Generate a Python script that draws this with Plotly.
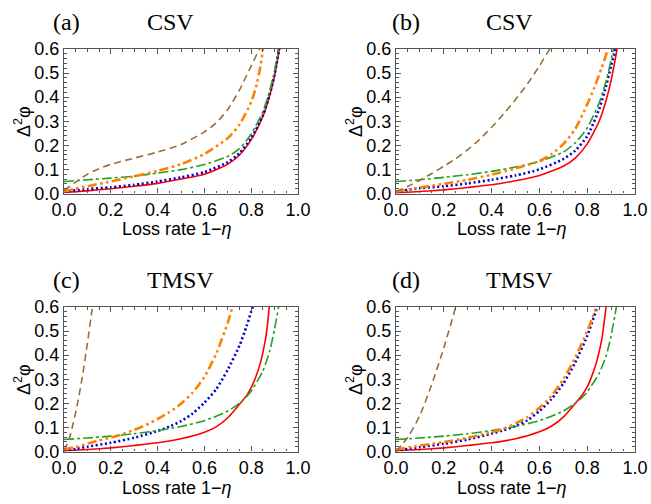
import plotly.graph_objects as go
from plotly.subplots import make_subplots

W, H = 651, 504

# ---------------- data ----------------
# Panel (a) CSV
a_red_x = [0, 0.1, 0.2, 0.3, 0.4, 0.5, 0.6, 0.7, 0.75, 0.8, 0.85, 0.88, 0.9, 0.92, 0.93]
a_red_y = [0.004, 0.011, 0.02, 0.03, 0.042, 0.06, 0.08, 0.122, 0.16, 0.224, 0.32, 0.41, 0.49, 0.6, 0.66]
a_blue_x = [0, 0.1, 0.2, 0.3, 0.4, 0.5, 0.6, 0.7, 0.75, 0.8, 0.85, 0.88, 0.9, 0.92, 0.93]
a_blue_y = [0.008, 0.018, 0.026, 0.036, 0.05, 0.067, 0.089, 0.13, 0.168, 0.23, 0.325, 0.415, 0.495, 0.6, 0.66]
a_green_x = [0, 0.1, 0.2, 0.3, 0.4, 0.5, 0.6, 0.7, 0.75, 0.8, 0.85, 0.88, 0.9, 0.915, 0.925]
a_green_y = [0.05, 0.057, 0.064, 0.072, 0.085, 0.099, 0.12, 0.154, 0.186, 0.247, 0.34, 0.43, 0.51, 0.6, 0.66]
a_orange_x = [0, 0.05, 0.1, 0.2, 0.3, 0.4, 0.5, 0.6, 0.7, 0.75, 0.8, 0.82, 0.84, 0.85, 0.855]
a_orange_y = [0.008, 0.02, 0.03, 0.05, 0.071, 0.094, 0.122, 0.164, 0.23, 0.286, 0.38, 0.44, 0.53, 0.6, 0.64]
a_brown_x = [0, 0.05, 0.1, 0.15, 0.2, 0.3, 0.4, 0.5, 0.6, 0.65, 0.7, 0.75, 0.8, 0.835, 0.85]
a_brown_y = [0.012, 0.047, 0.08, 0.103, 0.121, 0.147, 0.172, 0.203, 0.256, 0.293, 0.349, 0.43, 0.53, 0.6, 0.63]

# Panel (b) CSV
b_red_x = [0, 0.1, 0.2, 0.3, 0.4, 0.5, 0.6, 0.7, 0.75, 0.8, 0.85, 0.88, 0.9, 0.925, 0.935]
b_red_y = [0.002, 0.008, 0.015, 0.025, 0.036, 0.053, 0.075, 0.113, 0.147, 0.206, 0.3, 0.39, 0.47, 0.6, 0.66]
b_blue_x = [0, 0.1, 0.2, 0.3, 0.4, 0.5, 0.6, 0.7, 0.75, 0.8, 0.85, 0.88, 0.9, 0.918, 0.93]
b_blue_y = [0.008, 0.022, 0.03, 0.042, 0.057, 0.075, 0.1, 0.143, 0.178, 0.238, 0.35, 0.45, 0.53, 0.6, 0.67]
b_green_x = [0, 0.1, 0.2, 0.3, 0.4, 0.5, 0.6, 0.7, 0.75, 0.8, 0.85, 0.88, 0.91, 0.92]
b_green_y = [0.05, 0.057, 0.067, 0.078, 0.092, 0.11, 0.133, 0.172, 0.21, 0.272, 0.376, 0.47, 0.6, 0.65]
b_orange_x = [0, 0.1, 0.2, 0.3, 0.4, 0.5, 0.6, 0.65, 0.7, 0.75, 0.8, 0.83, 0.86, 0.887, 0.895]
b_orange_y = [0.008, 0.025, 0.04, 0.057, 0.078, 0.104, 0.135, 0.163, 0.205, 0.268, 0.37, 0.44, 0.52, 0.6, 0.63]
b_brown_x = [0, 0.05, 0.1, 0.15, 0.2, 0.25, 0.3, 0.35, 0.4, 0.45, 0.5, 0.55, 0.6, 0.643, 0.66]
b_brown_y = [0.008, 0.03, 0.055, 0.083, 0.113, 0.145, 0.182, 0.225, 0.275, 0.33, 0.39, 0.455, 0.53, 0.6, 0.63]

# Panel (c) TMSV
c_red_x = [0, 0.1, 0.2, 0.3, 0.4, 0.5, 0.6, 0.65, 0.7, 0.75, 0.78, 0.8, 0.82, 0.84, 0.86, 0.87, 0.877, 0.885]
c_red_y = [0.003, 0.008, 0.015, 0.025, 0.036, 0.053, 0.08, 0.102, 0.14, 0.196, 0.232, 0.265, 0.31, 0.37, 0.46, 0.53, 0.6, 0.68]
c_blue_x = [0, 0.05, 0.1, 0.2, 0.3, 0.4, 0.45, 0.5, 0.55, 0.6, 0.65, 0.7, 0.75, 0.78, 0.806, 0.815]
c_blue_y = [0.004, 0.011, 0.02, 0.036, 0.057, 0.085, 0.103, 0.126, 0.158, 0.203, 0.258, 0.34, 0.44, 0.52, 0.6, 0.63]
c_green_x = [0, 0.1, 0.2, 0.3, 0.4, 0.5, 0.6, 0.7, 0.75, 0.78, 0.8, 0.85, 0.88, 0.9, 0.917, 0.925]
c_green_y = [0.05, 0.056, 0.064, 0.074, 0.087, 0.104, 0.128, 0.168, 0.2, 0.228, 0.25, 0.335, 0.42, 0.51, 0.6, 0.66]
c_orange_x = [0, 0.05, 0.1, 0.15, 0.2, 0.25, 0.3, 0.35, 0.4, 0.45, 0.5, 0.55, 0.6, 0.65, 0.7, 0.72, 0.73]
c_orange_y = [0.008, 0.019, 0.033, 0.046, 0.058, 0.072, 0.09, 0.11, 0.135, 0.163, 0.198, 0.245, 0.31, 0.405, 0.535, 0.6, 0.64]
c_brown_x = [0, 0.02, 0.04, 0.06, 0.08, 0.1, 0.12, 0.125]
c_brown_y = [0.005, 0.045, 0.12, 0.21, 0.32, 0.45, 0.59, 0.63]

# Panel (d) TMSV
d_red_x = [0, 0.1, 0.2, 0.3, 0.4, 0.5, 0.6, 0.65, 0.7, 0.75, 0.78, 0.8, 0.82, 0.84, 0.86, 0.87, 0.879, 0.887]
d_red_y = [0.003, 0.008, 0.015, 0.025, 0.036, 0.053, 0.082, 0.105, 0.143, 0.2, 0.236, 0.268, 0.315, 0.375, 0.46, 0.53, 0.6, 0.68]
d_blue_x = [0, 0.1, 0.2, 0.3, 0.4, 0.45, 0.5, 0.55, 0.6, 0.65, 0.7, 0.75, 0.8, 0.82, 0.842, 0.85]
d_blue_y = [0.004, 0.018, 0.032, 0.05, 0.074, 0.088, 0.106, 0.13, 0.168, 0.217, 0.282, 0.37, 0.48, 0.535, 0.6, 0.63]
d_green_x = [0, 0.1, 0.2, 0.3, 0.4, 0.5, 0.6, 0.7, 0.75, 0.78, 0.8, 0.85, 0.88, 0.9, 0.922, 0.93]
d_green_y = [0.05, 0.056, 0.064, 0.074, 0.087, 0.104, 0.128, 0.168, 0.2, 0.226, 0.247, 0.325, 0.4, 0.48, 0.6, 0.66]
d_orange_x = [0, 0.1, 0.2, 0.3, 0.4, 0.45, 0.5, 0.55, 0.6, 0.65, 0.7, 0.75, 0.8, 0.82, 0.838, 0.845]
d_orange_y = [0.008, 0.025, 0.039, 0.057, 0.08, 0.094, 0.117, 0.143, 0.182, 0.231, 0.3, 0.39, 0.5, 0.55, 0.6, 0.63]
d_brown_x = [0, 0.05, 0.1, 0.15, 0.2, 0.25, 0.26]
d_brown_y = [0.0, 0.06, 0.15, 0.28, 0.43, 0.6, 0.63]

panel_letters = ["(a)", "(b)", "(c)", "(d)"]
panel_states = ["CSV", "CSV", "TMSV", "TMSV"]
x_ticks = [0.0, 0.2, 0.4, 0.6, 0.8, 1.0]
y_ticks = [0.0, 0.1, 0.2, 0.3, 0.4, 0.5, 0.6]
x_title = "Loss rate 1\u2212<i>\u03b7</i>"
y_title = "\u0394<sup>2</sup>\u03c6"

panels = [
    [(a_red_x, a_red_y, "red"), (a_blue_x, a_blue_y, "blue"), (a_green_x, a_green_y, "green"),
     (a_orange_x, a_orange_y, "orange"), (a_brown_x, a_brown_y, "brown")],
    [(b_red_x, b_red_y, "red"), (b_blue_x, b_blue_y, "blue"), (b_green_x, b_green_y, "green"),
     (b_orange_x, b_orange_y, "orange"), (b_brown_x, b_brown_y, "brown")],
    [(c_red_x, c_red_y, "red"), (c_blue_x, c_blue_y, "blue"), (c_green_x, c_green_y, "green"),
     (c_orange_x, c_orange_y, "orange"), (c_brown_x, c_brown_y, "brown")],
    [(d_red_x, d_red_y, "red"), (d_blue_x, d_blue_y, "blue"), (d_green_x, d_green_y, "green"),
     (d_orange_x, d_orange_y, "orange"), (d_brown_x, d_brown_y, "brown")],
]

styles = {
    "red": dict(color="#ff0000", width=1.6, dash="solid"),
    "blue": dict(color="#0000c8", width=2.6, dash="2px,2.6px"),
    "green": dict(color="#22a022", width=1.6, dash="10px,3px,3px,3px"),
    "orange": dict(color="#ff8000", width=2.6, dash="9px,3.5px,2.5px,3.5px,2.5px,3.5px"),
    "brown": dict(color="#9c6b3a", width=1.6, dash="7px,4.5px"),
}

# ---------------- layout geometry (pixels) ----------------
col_x = [(64, 298), (396, 635)]
row_y = [(49, 193.5), (307, 451.5)]
title_dx = [0, 339]      # horizontal shift of panel headings per column
xlab_cx = [177, 512]     # centre of the x-axis title per column
ylab_cx = [22, 354]      # centre of the y-axis title per column

fig = make_subplots(rows=2, cols=2)

for i, series in enumerate(panels):
    r, c = divmod(i, 2)
    for xs, ys, key in series:
        st = styles[key]
        fig.add_trace(go.Scatter(x=xs, y=ys, mode="lines", showlegend=False,
                                 line=dict(color=st["color"], width=st["width"], dash=st["dash"],
                                           shape="spline", smoothing=0.6)),
                      row=r + 1, col=c + 1)

frame_col = "#555555"
tickfont = dict(family="Liberation Sans, Arial, sans-serif", size=18, color="black")
for i in range(4):
    r, c = divmod(i, 2)
    x0, x1 = col_x[c]
    y0, y1 = row_y[r]
    sfx = "" if i == 0 else str(i + 1)
    fig.layout["xaxis" + sfx].update(
        domain=[x0 / W, x1 / W], range=[0, 1], tickvals=x_ticks, tickformat=".1f",
        automargin=False,
        showline=True, linecolor=frame_col, linewidth=1.4, mirror="ticks",
        ticks="inside", ticklen=5, tickwidth=1, tickcolor=frame_col,
        minor=dict(dtick=0.05, tick0=0, ticks="inside", ticklen=2.5, tickcolor=frame_col, tickwidth=1),
        showgrid=False, zeroline=False, tickfont=tickfont, fixedrange=True)
    fig.layout["yaxis" + sfx].update(
        domain=[1 - y1 / H, 1 - y0 / H], range=[0, 0.6], tickvals=y_ticks, tickformat=".1f",
        automargin=False,
        showline=True, linecolor=frame_col, linewidth=1.4, mirror="ticks",
        ticks="inside", ticklen=5, tickwidth=1, tickcolor=frame_col,
        minor=dict(dtick=0.02, tick0=0, ticks="inside", ticklen=2.5, tickcolor=frame_col, tickwidth=1),
        showgrid=False, zeroline=False, tickfont=tickfont, fixedrange=True)

annotations = []
title_font = dict(family="Liberation Serif, Times New Roman, serif", size=24, color="black")
label_font = dict(family="Liberation Sans, Arial, sans-serif", size=18, color="black")
for i in range(4):
    r, c = divmod(i, 2)
    dx = title_dx[c]
    dy = 0 if r == 0 else 258
    annotations.append(dict(x=(66.5 + dx) / W, y=1 - (22 + dy) / H, xref="paper", yref="paper",
                            text=panel_letters[i], showarrow=False, xanchor="center", yanchor="middle",
                            font=title_font))
    annotations.append(dict(x=(145 + dx) / W, y=1 - (22 + dy) / H, xref="paper", yref="paper",
                            text=panel_states[i], showarrow=False, xanchor="left", yanchor="middle",
                            font=title_font))
    annotations.append(dict(x=xlab_cx[c] / W, y=1 - (229.5 + dy) / H, xref="paper", yref="paper",
                            text=x_title, showarrow=False, xanchor="center", yanchor="middle",
                            font=label_font))
    annotations.append(dict(x=ylab_cx[c] / W, y=1 - (122 + dy) / H, xref="paper", yref="paper",
                            text=y_title, showarrow=False, xanchor="center", yanchor="middle",
                            textangle=-90, font=label_font))

fig.update_layout(width=W, height=H, margin=dict(l=0, r=0, t=0, b=0),
                  paper_bgcolor="white", plot_bgcolor="white", annotations=annotations,
                  showlegend=False)

fig.write_html("out.html")
